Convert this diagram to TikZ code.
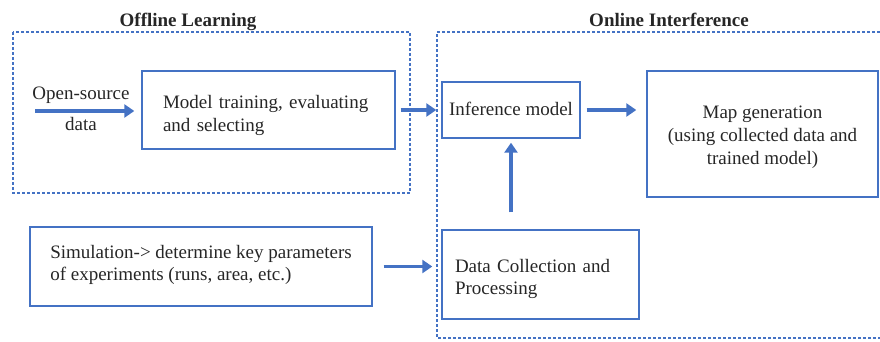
\documentclass[tikz,border=0pt]{standalone}
\usepackage{fontspec}
\setmainfont{Liberation Serif}
\usetikzlibrary{arrows.meta}
\definecolor{boxblue}{RGB}{68,114,196}

\begin{document}
\begin{tikzpicture}[x=1pt, y=-1pt,
	every node/.style={font=\fontsize{19}{23}\selectfont, text=black!85},
	box/.style={draw=boxblue, line width=1.4pt, inner ysep=0pt},
	textpos/.style 2 args={text height=#1, text depth=#2},
	group/.style={draw=boxblue, line width=1.2pt, dash pattern=on 3pt off 2pt},
	title/.style={font=\fontsize{19}{23}\selectfont\bfseries, textpos={10pt}{10pt}},
	flow/.style={draw=boxblue, line width=3.5pt, -{Triangle[length=10pt,width=13pt]}}]
	\useasboundingbox (0,0) rectangle (880,341);
	% the two stages
	\draw[group] (13,32) rectangle (410,193);
	\draw[group] (880,32) -- (437,32) -- (437,338) -- (880,338);
	\node[title] (offtitle) at (188,26.5) {Offline Learning};
	\node[title] (ontitle) at (669,26.5) {Online Interference};
	% offline part
	\node[box, align=left, text width=211pt, inner xsep=21pt, minimum height=78pt, textpos={10pt}{13pt}] (train) at (268.5,110) {Model training, evaluating\\and selecting};
	\node[align=center, font=\fontsize{19}{30.7}\selectfont, textpos={10pt}{10pt}] (opensrc) at (81,130) {Open-source\\data};
	\coordinate (srcin) at (35,111);
	\draw[flow, shorten >=7pt] (srcin) -- (srcin -| train.west);
	% online part
	\node[box, minimum width=138pt, minimum height=56pt, textpos={20pt}{10pt}] (infer) at (511,110) {Inference model};
	\node[box, align=center, minimum width=231pt, minimum height=126pt, textpos={71pt}{10pt}] (mapgen) at (762.5,134) {Map generation\\(using collected data and\\trained model)};
	\node[box, align=left, text width=171pt, inner xsep=13pt, minimum height=89pt, font=\fontsize{19}{22}\selectfont, textpos={10pt}{14pt}] (collect) at (540.5,274.5) {Data Collection and\\Processing};
	\node[box, align=left, minimum width=342pt, minimum height=79pt, font=\fontsize{19}{22}\selectfont, textpos={37pt}{10pt}] (sim) at (201,266.5) {Simulation-> determine key parameters\\of experiments (runs, area, etc.)};
	\draw[flow, shorten <=5pt, shorten >=5pt] (train.east) -- (infer.west);
	\draw[flow, shorten <=6pt, shorten >=10pt] (infer.east) -- (infer.east -| mapgen.west);
	\draw[flow, shorten <=17pt, shorten >=4pt] (infer.south |- collect.north) -- (infer.south);
	\draw[flow, shorten <=11pt, shorten >=9pt] (sim.east) -- (sim.east -| collect.west);
\end{tikzpicture}
\end{document}
